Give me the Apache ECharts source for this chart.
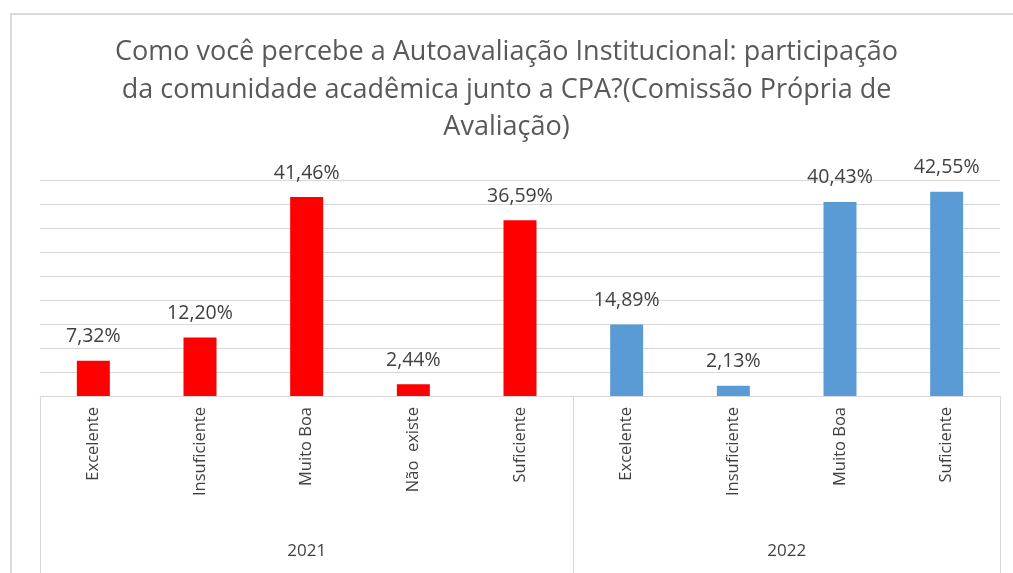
<!DOCTYPE html>
<html>
<head>
<meta charset="utf-8">
<script src="https://cdn.jsdelivr.net/npm/echarts@6/dist/echarts.min.js"></script>
<style>
html,body{margin:0;padding:0;background:#fff;}
#chart{width:1013px;height:573px;}
</style>
</head>
<body>
<div id="chart"></div>
<script>
const titleText = "Como você percebe a Autoavaliação Institucional: participação\nda comunidade acadêmica junto a CPA?(Comissão Própria de\nAvaliação)";
const years = ["2021", "2022"];
const categories2021 = ["Excelente", "Insuficiente", "Muito Boa", "Não  existe", "Suficiente"];
const categories2022 = ["Excelente", "Insuficiente", "Muito Boa", "Suficiente"];
const values2021 = [7.32, 12.20, 41.46, 2.44, 36.59];
const values2022 = [14.89, 2.13, 40.43, 42.55];
const colors = ["#FF0000", "#5B9BD5"];

const categories = categories2021.concat(categories2022);
const n1 = categories2021.length, n2 = categories2022.length, total = n1 + n2;
const data2021 = values2021.concat(new Array(n2).fill(null));
const data2022 = new Array(n1).fill(null).concat(values2022);
const boundaries = [0, n1, total];
const centers = [n1 / 2, n1 + n2 / 2];

const fmt = v => v.toFixed(2).replace('.', ',') + '%';
const font = '"Open Sans", sans-serif';

const chart = echarts.init(document.getElementById('chart'), null, {renderer: 'canvas'});
chart.setOption({
  animation: false,
  backgroundColor: '#ffffff',
  title: {
    text: titleText,
    left: 'center',
    top: 29,
    textStyle: {fontFamily: font, fontSize: 27, fontWeight: 'normal', color: '#595959', lineHeight: 37.5}
  },
  graphic: [{
    type: 'rect',
    shape: {x: 11, y: 14, width: 1020, height: 600},
    style: {fill: 'none', stroke: '#d9d9d9', lineWidth: 2},
    silent: true
  }],
  grid: {left: 40, right: 13, top: 180, bottom: 177, containLabel: false},
  xAxis: [{
    type: 'category',
    data: categories,
    axisLine: {show: true, lineStyle: {color: '#d9d9d9', width: 1}},
    axisTick: {show: false},
    axisLabel: {rotate: 90, interval: 0, margin: 11, fontFamily: font, fontSize: 16.5, color: '#404040'}
  }, {
    type: 'value',
    position: 'bottom',
    min: 0, max: total,
    axisLine: {show: false},
    splitLine: {show: false},
    axisTick: {show: true, customValues: boundaries, length: 177, lineStyle: {color: '#d9d9d9', width: 1}},
    axisLabel: {show: true, customValues: centers, margin: 147, fontFamily: font, fontSize: 17, color: '#404040',
      formatter: v => years[centers.indexOf(v)] || ''}
  }],
  yAxis: {
    type: 'value',
    min: 0, max: 45, interval: 5,
    axisLine: {show: false},
    axisTick: {show: false},
    axisLabel: {show: false},
    splitLine: {show: true, lineStyle: {color: '#d9d9d9', width: 1}}
  },
  series: [{
    name: years[0], type: 'bar', data: data2021, barWidth: 33, barGap: '-100%',
    itemStyle: {color: colors[0]},
    label: {show: true, position: 'top', distance: 14, fontFamily: font, fontSize: 19.5, color: '#404040', formatter: p => fmt(p.value)}
  }, {
    name: years[1], type: 'bar', data: data2022, barWidth: 33, barGap: '-100%',
    itemStyle: {color: colors[1]},
    label: {show: true, position: 'top', distance: 14, fontFamily: font, fontSize: 19.5, color: '#404040', formatter: p => fmt(p.value)}
  }]
});
</script>
</body>
</html>
